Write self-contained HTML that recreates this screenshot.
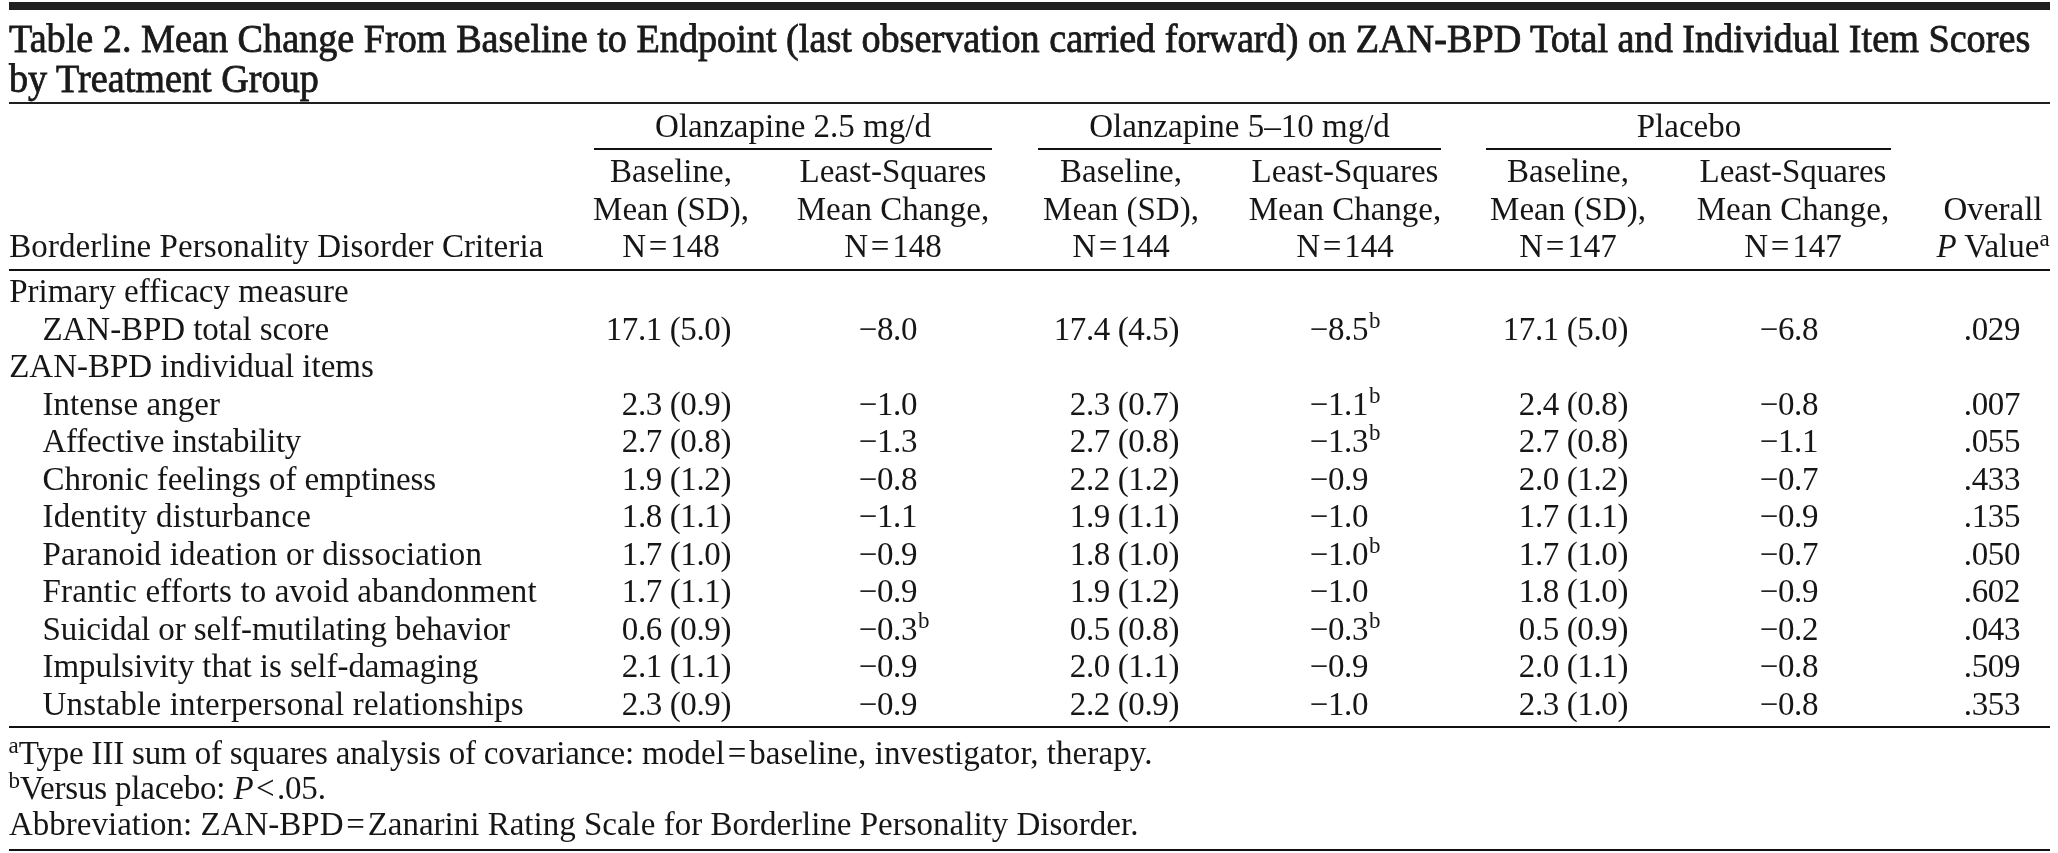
<!DOCTYPE html>
<html><head><meta charset="utf-8"><title>Table 2</title><style>
html,body{margin:0;padding:0;background:#fff;-webkit-font-smoothing:antialiased;}
body{width:2058px;height:853px;overflow:hidden;}
#pg{width:2058px;height:853px;position:relative;overflow:hidden;filter:grayscale(1);background:#fff;color:#161616;font-family:"Liberation Serif",serif;}
.r{position:absolute;background:#1f1f1f;}
.t{position:absolute;left:9px;white-space:pre;font-size:40px;line-height:40px;transform:scaleX(0.955);transform-origin:0 0;-webkit-text-stroke:0.8px #1a1a1a;color:#1a1a1a;}
.c,.rt,.l{position:absolute;white-space:pre;font-size:33px;line-height:33px;}
.c{width:500px;text-align:center;}
.rt{width:300px;text-align:right;letter-spacing:-0.4px;}
.hs{position:absolute;left:300px;font-size:23px;line-height:33px;top:-8.8px;padding-left:1px;letter-spacing:0}
.su{font-size:23px;position:relative;top:-11.5px;line-height:0}
</style></head>
<body><div id="pg">
<div class="r" style="left:9px;top:2px;width:2041px;height:8px;background:#202020"></div>
<div class="r" style="left:9px;top:101.6px;width:2041px;height:2.4px;background:#1f1f1f"></div>
<div class="r" style="left:594px;top:147.6px;width:398px;height:2.4px;background:#111"></div>
<div class="r" style="left:1038px;top:147.6px;width:403px;height:2.4px;background:#111"></div>
<div class="r" style="left:1486px;top:147.6px;width:405px;height:2.4px;background:#111"></div>
<div class="r" style="left:9px;top:268.5px;width:2041px;height:2.5px;background:#111"></div>
<div class="r" style="left:9px;top:725.8px;width:2041px;height:2.2px;background:#111"></div>
<div class="r" style="left:9px;top:848.8px;width:2041px;height:2.2px;background:#111"></div>
<div class="t" style="top:18.6px">Table 2. Mean Change From Baseline to Endpoint (last observation carried forward) on ZAN-BPD Total and Individual Item Scores</div>
<div class="t" style="top:59.0px">by Treatment Group</div>
<div class="c" style="left:543px;top:110.0px">Olanzapine 2.5 mg/d</div>
<div class="c" style="left:989.5px;top:110.0px">Olanzapine 5–10 mg/d</div>
<div class="c" style="left:1439px;top:110.0px">Placebo</div>
<div class="c" style="left:421px;top:155.0px">Baseline,</div>
<div class="c" style="left:421px;top:192.5px">Mean (SD),</div>
<div class="c" style="left:421px;top:230.0px">N = 148</div>
<div class="c" style="left:643px;top:155.0px">Least-Squares</div>
<div class="c" style="left:643px;top:192.5px">Mean Change,</div>
<div class="c" style="left:643px;top:230.0px">N = 148</div>
<div class="c" style="left:871px;top:155.0px">Baseline,</div>
<div class="c" style="left:871px;top:192.5px">Mean (SD),</div>
<div class="c" style="left:871px;top:230.0px">N = 144</div>
<div class="c" style="left:1095px;top:155.0px">Least-Squares</div>
<div class="c" style="left:1095px;top:192.5px">Mean Change,</div>
<div class="c" style="left:1095px;top:230.0px">N = 144</div>
<div class="c" style="left:1318px;top:155.0px">Baseline,</div>
<div class="c" style="left:1318px;top:192.5px">Mean (SD),</div>
<div class="c" style="left:1318px;top:230.0px">N = 147</div>
<div class="c" style="left:1543px;top:155.0px">Least-Squares</div>
<div class="c" style="left:1543px;top:192.5px">Mean Change,</div>
<div class="c" style="left:1543px;top:230.0px">N = 147</div>
<div class="c" style="left:1893px;width:200px;top:192.5px">Overall</div>
<div class="c" style="left:1893px;width:200px;top:230.0px"><i>P</i> Value<span class="su">a</span></div>
<div class="l" style="left:9.2px;top:230.0px;letter-spacing:0.09px">Borderline Personality Disorder Criteria</div>
<div class="l" style="left:9.2px;top:275.2px;letter-spacing:0.043px">Primary efficacy measure</div>
<div class="l" style="left:42.5px;top:312.7px;letter-spacing:-0.061px">ZAN-BPD total score</div>
<div class="rt" style="left:431px;top:312.7px">17.1 (5.0)</div>
<div class="rt" style="left:617px;top:312.7px">−8.0</div>
<div class="rt" style="left:879px;top:312.7px">17.4 (4.5)</div>
<div class="rt" style="left:1068px;top:312.7px">−8.5<span class="hs">b</span></div>
<div class="rt" style="left:1328px;top:312.7px">17.1 (5.0)</div>
<div class="rt" style="left:1518px;top:312.7px">−6.8</div>
<div class="rt" style="left:1720px;top:312.7px">.029</div>
<div class="l" style="left:9.2px;top:350.2px;letter-spacing:-0.009px">ZAN-BPD individual items</div>
<div class="l" style="left:42.5px;top:387.7px;letter-spacing:0.05px">Intense anger</div>
<div class="rt" style="left:431px;top:387.7px">2.3 (0.9)</div>
<div class="rt" style="left:617px;top:387.7px">−1.0</div>
<div class="rt" style="left:879px;top:387.7px">2.3 (0.7)</div>
<div class="rt" style="left:1068px;top:387.7px">−1.1<span class="hs">b</span></div>
<div class="rt" style="left:1328px;top:387.7px">2.4 (0.8)</div>
<div class="rt" style="left:1518px;top:387.7px">−0.8</div>
<div class="rt" style="left:1720px;top:387.7px">.007</div>
<div class="l" style="left:42.5px;top:425.2px;letter-spacing:-0.27px">Affective instability</div>
<div class="rt" style="left:431px;top:425.2px">2.7 (0.8)</div>
<div class="rt" style="left:617px;top:425.2px">−1.3</div>
<div class="rt" style="left:879px;top:425.2px">2.7 (0.8)</div>
<div class="rt" style="left:1068px;top:425.2px">−1.3<span class="hs">b</span></div>
<div class="rt" style="left:1328px;top:425.2px">2.7 (0.8)</div>
<div class="rt" style="left:1518px;top:425.2px">−1.1</div>
<div class="rt" style="left:1720px;top:425.2px">.055</div>
<div class="l" style="left:42.5px;top:462.7px;letter-spacing:-0.046px">Chronic feelings of emptiness</div>
<div class="rt" style="left:431px;top:462.7px">1.9 (1.2)</div>
<div class="rt" style="left:617px;top:462.7px">−0.8</div>
<div class="rt" style="left:879px;top:462.7px">2.2 (1.2)</div>
<div class="rt" style="left:1068px;top:462.7px">−0.9</div>
<div class="rt" style="left:1328px;top:462.7px">2.0 (1.2)</div>
<div class="rt" style="left:1518px;top:462.7px">−0.7</div>
<div class="rt" style="left:1720px;top:462.7px">.433</div>
<div class="l" style="left:42.5px;top:500.20000000000005px;letter-spacing:0.279px">Identity disturbance</div>
<div class="rt" style="left:431px;top:500.20000000000005px">1.8 (1.1)</div>
<div class="rt" style="left:617px;top:500.20000000000005px">−1.1</div>
<div class="rt" style="left:879px;top:500.20000000000005px">1.9 (1.1)</div>
<div class="rt" style="left:1068px;top:500.20000000000005px">−1.0</div>
<div class="rt" style="left:1328px;top:500.20000000000005px">1.7 (1.1)</div>
<div class="rt" style="left:1518px;top:500.20000000000005px">−0.9</div>
<div class="rt" style="left:1720px;top:500.20000000000005px">.135</div>
<div class="l" style="left:42.5px;top:537.7px;letter-spacing:0.188px">Paranoid ideation or dissociation</div>
<div class="rt" style="left:431px;top:537.7px">1.7 (1.0)</div>
<div class="rt" style="left:617px;top:537.7px">−0.9</div>
<div class="rt" style="left:879px;top:537.7px">1.8 (1.0)</div>
<div class="rt" style="left:1068px;top:537.7px">−1.0<span class="hs">b</span></div>
<div class="rt" style="left:1328px;top:537.7px">1.7 (1.0)</div>
<div class="rt" style="left:1518px;top:537.7px">−0.7</div>
<div class="rt" style="left:1720px;top:537.7px">.050</div>
<div class="l" style="left:42.5px;top:575.2px;letter-spacing:0.151px">Frantic efforts to avoid abandonment</div>
<div class="rt" style="left:431px;top:575.2px">1.7 (1.1)</div>
<div class="rt" style="left:617px;top:575.2px">−0.9</div>
<div class="rt" style="left:879px;top:575.2px">1.9 (1.2)</div>
<div class="rt" style="left:1068px;top:575.2px">−1.0</div>
<div class="rt" style="left:1328px;top:575.2px">1.8 (1.0)</div>
<div class="rt" style="left:1518px;top:575.2px">−0.9</div>
<div class="rt" style="left:1720px;top:575.2px">.602</div>
<div class="l" style="left:42.5px;top:612.7px;letter-spacing:-0.074px">Suicidal or self-mutilating behavior</div>
<div class="rt" style="left:431px;top:612.7px">0.6 (0.9)</div>
<div class="rt" style="left:617px;top:612.7px">−0.3<span class="hs">b</span></div>
<div class="rt" style="left:879px;top:612.7px">0.5 (0.8)</div>
<div class="rt" style="left:1068px;top:612.7px">−0.3<span class="hs">b</span></div>
<div class="rt" style="left:1328px;top:612.7px">0.5 (0.9)</div>
<div class="rt" style="left:1518px;top:612.7px">−0.2</div>
<div class="rt" style="left:1720px;top:612.7px">.043</div>
<div class="l" style="left:42.5px;top:650.2px;letter-spacing:-0.047px">Impulsivity that is self-damaging</div>
<div class="rt" style="left:431px;top:650.2px">2.1 (1.1)</div>
<div class="rt" style="left:617px;top:650.2px">−0.9</div>
<div class="rt" style="left:879px;top:650.2px">2.0 (1.1)</div>
<div class="rt" style="left:1068px;top:650.2px">−0.9</div>
<div class="rt" style="left:1328px;top:650.2px">2.0 (1.1)</div>
<div class="rt" style="left:1518px;top:650.2px">−0.8</div>
<div class="rt" style="left:1720px;top:650.2px">.509</div>
<div class="l" style="left:42.5px;top:687.7px;letter-spacing:0.18px">Unstable interpersonal relationships</div>
<div class="rt" style="left:431px;top:687.7px">2.3 (0.9)</div>
<div class="rt" style="left:617px;top:687.7px">−0.9</div>
<div class="rt" style="left:879px;top:687.7px">2.2 (0.9)</div>
<div class="rt" style="left:1068px;top:687.7px">−1.0</div>
<div class="rt" style="left:1328px;top:687.7px">2.3 (1.0)</div>
<div class="rt" style="left:1518px;top:687.7px">−0.8</div>
<div class="rt" style="left:1720px;top:687.7px">.353</div>
<div class="l" style="left:8.5px;top:737.3px"><span class="su">a</span><span style="letter-spacing:-0.177px">Type III sum of squares analysis of covariance: </span><span style="letter-spacing:0.08px">model = baseline, investigator, therapy.</span></div>
<div class="l" style="left:8.5px;top:772.0px"><span class="su">b</span><span style="letter-spacing:-0.18px">Versus placebo: <i>P</i> &lt; .05.</span></div>
<div class="l" style="left:9px;top:808.0px">Abbreviation: ZAN-BPD = Zanarini Rating Scale for Borderline Personality Disorder.</div>
</div></body></html>
